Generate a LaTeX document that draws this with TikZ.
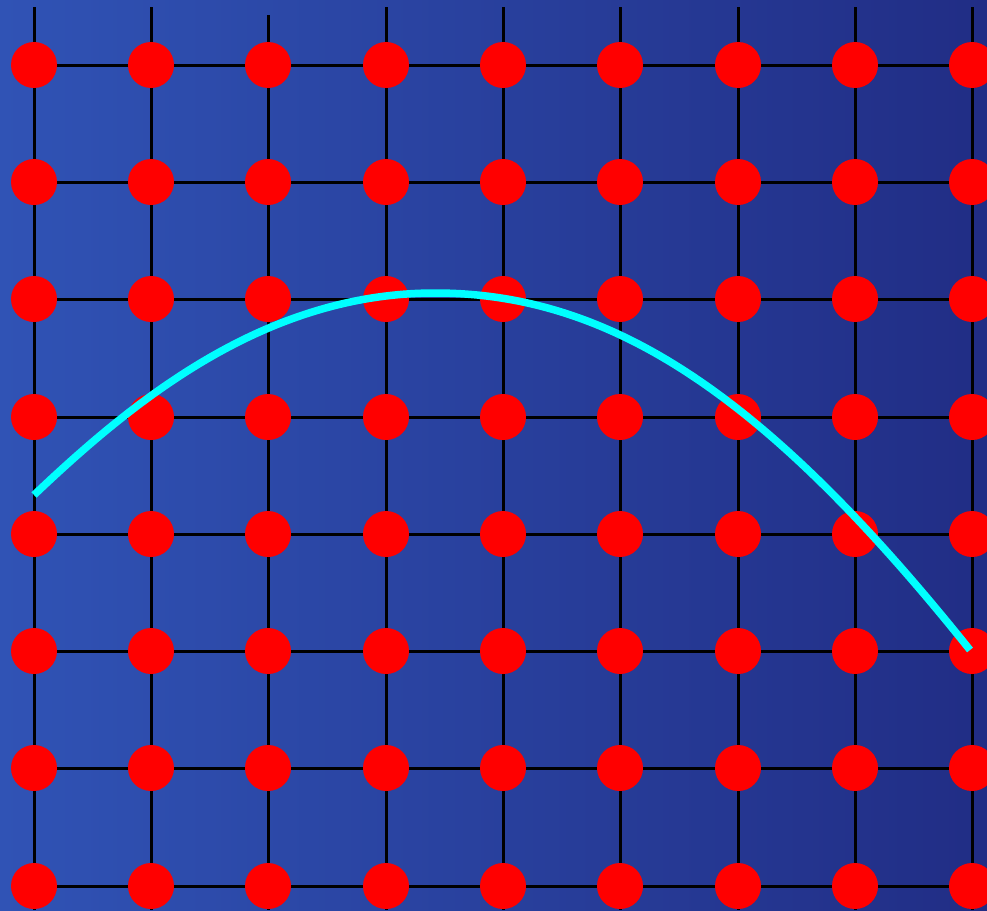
\documentclass[tikz,border=0pt]{standalone}
\begin{document}
\begin{tikzpicture}[x=1pt,y=-1pt,
  gridline/.style={black,line width=3pt},
  dot/.style={circle,fill=red,draw=none,minimum size=46pt,inner sep=0pt},
  curve/.style={draw=cyanline,line width=7.5pt}]
\definecolor{bgleft}{RGB}{48,83,181}
\definecolor{bgright}{RGB}{33,45,133}
\definecolor{cyanline}{RGB}{0,255,255}
\useasboundingbox (0,0) rectangle (987,910);
\shade[left color=bgleft,right color=bgright] (0,0) rectangle (987,910);
\def\xs{34,151,268,386,503,620,738,855,972}
\def\ys{65,182,299,417,534,651,768,886}
% vertical lines
\foreach \x [count=\i] in \xs {
  \ifnum\i=3
    \coordinate (vt\i) at (\x,15);
  \else
    \coordinate (vt\i) at (\x,7);
  \fi
  \coordinate (vb\i) at (\x,910);
  \draw[gridline] (vt\i) -- (vb\i);
}
% horizontal lines
\foreach \y [count=\j] in \ys {
  \coordinate (hl\j) at (34,\y);
  \coordinate (hr\j) at (987,\y);
  \draw[gridline] (hl\j) -- (hr\j);
}
% dots
\foreach \x [count=\i] in \xs {
  \foreach \y [count=\j] in \ys {
    \node[dot] (d-\i-\j) at (\x,\y) {};
  }
}
% curve
\coordinate (cs) at (34,495);
\coordinate (cp) at (435,293);
\coordinate (ce) at (970,650);
\draw[curve] (cs) .. controls (134,400) and (265,293) .. (cp)
                  .. controls (615,293) and (770,400) .. (ce);
\end{tikzpicture}
\end{document}
